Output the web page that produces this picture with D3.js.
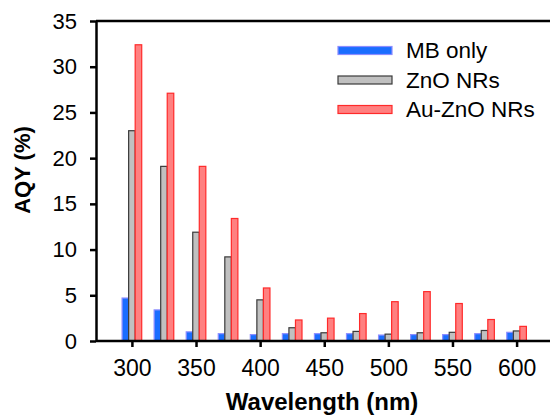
<!DOCTYPE html>
<meta charset="utf-8">
<style>
  body { margin: 0; background: #fff; }
  .axis text { font-family: "Liberation Sans", Arial, sans-serif; font-size: 22px; fill: #000; }
  .x.axis text { font-size: 23px; }
  .axis path, .axis line { stroke: #000; stroke-width: 2.5; fill: none; }
  .label { font-family: "Liberation Sans", Arial, sans-serif; font-weight: bold; fill: #000; }
  .legend text { font-family: "Liberation Sans", Arial, sans-serif; font-size: 22.5px; fill: #000; }
</style>
<body>
<svg class="chart"></svg>
<script src="https://cdn.jsdelivr.net/npm/d3@7"></script>
<script>

// Data
var wavelengths = [300, 325, 350, 375, 400, 425, 450, 475, 500, 525, 550, 575, 600];
var mbOnly   = [4.7, 3.4, 1.0, 0.8, 0.7, 0.8, 0.8, 0.8, 0.65, 0.7, 0.7, 0.8, 0.95];
var znoNRs   = [23.0, 19.1, 11.9, 9.2, 4.5, 1.45, 0.9, 1.05, 0.75, 0.9, 0.95, 1.15, 1.1];
var auZnoNRs = [32.4, 27.1, 19.1, 13.4, 5.8, 2.3, 2.5, 3.0, 4.3, 5.4, 4.1, 2.35, 1.6];
var seriesNames = ["MB only", "ZnO NRs", "Au-ZnO NRs"];
var xTicks = [300, 350, 400, 450, 500, 550, 600];
var yTicks = [0, 5, 10, 15, 20, 25, 30, 35];

var W = 550, H = 418;
var margin = { top: 21, left: 96, bottom: 77 };

var svg = d3.select(".chart").attr("width", W).attr("height", H);

var x = d3.scaleLinear().domain([272, 627]).range([margin.left, margin.left + (627 - 272) * 1.2823]);
var y = d3.scaleLinear().domain([0, 35]).range([H - margin.bottom, margin.top]);

var styles = [
  { fill: "#1a6dff", stroke: "#8c8cff" },
  { fill: "#c0c0c0", stroke: "#3a3a3a" },
  { fill: "#ff8080", stroke: "#ff2a2a" }
];
var series = [mbOnly, znoNRs, auZnoNRs];
var barW = 5.1; // nm
var offsets = [-1.5, -0.5, 0.5];

// bars
series.forEach(function(vals, s) {
  svg.append("g").selectAll("rect")
    .data(vals)
    .enter().append("rect")
    .attr("x", function(d, i) { return x(wavelengths[i] + offsets[s] * barW); })
    .attr("y", function(d) { return y(d); })
    .attr("width", x(barW) - x(0))
    .attr("height", function(d) { return y(0) - y(d); })
    .attr("fill", styles[s].fill)
    .attr("stroke", styles[s].stroke)
    .attr("stroke-width", 1.2);
});

// top frame line
svg.append("line")
  .attr("x1", x(272)).attr("x2", W + 5)
  .attr("y1", y(35)).attr("y2", y(35))
  .attr("stroke", "#000").attr("stroke-width", 2.5);

// axes
svg.append("g")
  .attr("class", "x axis")
  .attr("transform", "translate(0," + y(0) + ")")
  .call(d3.axisBottom(x).tickValues(xTicks).tickSize(6).tickPadding(13).tickSizeOuter(0))
  .select(".domain").attr("d", "M" + x(272) + ",0H" + (W + 5));

svg.append("g")
  .attr("class", "y axis")
  .attr("transform", "translate(" + x(272) + ",0)")
  .call(d3.axisLeft(y).tickValues(yTicks).tickSize(6).tickPadding(13).tickSizeOuter(0));

// axis labels
svg.append("text")
  .attr("class", "label")
  .attr("x", 322).attr("y", 410)
  .attr("text-anchor", "middle")
  .style("font-size", "24px")
  .text("Wavelength (nm)");

svg.append("text")
  .attr("class", "label")
  .attr("transform", "translate(30,170) rotate(-90)")
  .attr("text-anchor", "middle")
  .style("font-size", "22px")
  .text("AQY (%)");

// legend
var legend = svg.append("g").attr("class", "legend");
var legY = [50.5, 80, 109.5];
seriesNames.forEach(function(name, s) {
  legend.append("rect")
    .attr("x", 338).attr("y", legY[s] - 4)
    .attr("width", 54).attr("height", 8)
    .attr("fill", styles[s].fill)
    .attr("stroke", styles[s].stroke)
    .attr("stroke-width", 1.2);
  legend.append("text")
    .attr("x", 406).attr("y", legY[s] + 7.5)
    .text(name);
});

</script>
</body>
